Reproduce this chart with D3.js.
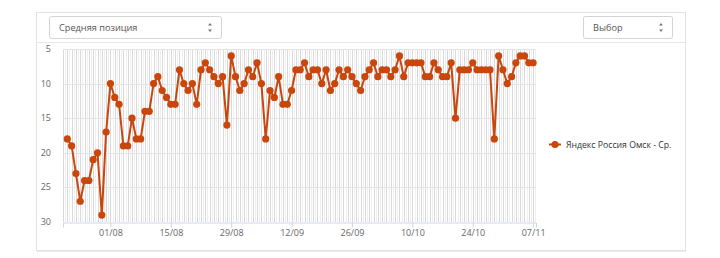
<!DOCTYPE html>
<html>
<head>
<meta charset="utf-8">
<script src="https://cdnjs.cloudflare.com/ajax/libs/d3/7.8.5/d3.min.js"></script>
<style>
  html, body { margin: 0; padding: 0; background: #fff; }
  svg { display: block; font-family: "Open Sans", sans-serif; }
</style>
</head>
<body>
<div id="viz"></div>
<script>
// positions by day, 22/07 .. 07/11
const startDate = new Date(2019, 6, 22)
const positions = [
  18,19,23,27,24,24,21,20,29,17,
  10,12,13,19,19,15,18,18,14,14,10,9,11,12,13,13,8,10,11,10,13,8,7,8,9,10,9,16,6,9,11,
  10,8,9,7,10,18,11,12,9,13,13,11,8,8,7,9,8,8,10,8,11,10,8,9,8,9,10,11,9,8,
  7,9,8,8,9,8,6,9,7,7,7,7,9,9,7,8,9,9,7,15,8,8,8,7,8,8,8,8,18,6,8,
  10,9,7,6,6,7,7
]
const tickLabels = ["01/08","15/08","29/08","12/09","26/09","10/10","24/10","07/11"]
const yTicks = [5,10,15,20,25,30]
const seriesName = "Яндекс Россия Омск - Ср."
const selectLeft = "Средняя позиция"
const selectRight = "Выбор"

const width = 720, height = 258
const color = "#c9460c"

const data = positions.map((v, i) => ({date: d3.timeDay.offset(startDate, i), value: v}))
const tickDates = tickLabels.map(s => {
  const [dd, mm] = s.split("/").map(Number)
  return new Date(2019, mm - 1, dd)
})

const svg = d3.select("#viz").append("svg")
  .attr("width", width).attr("height", height)

// card
svg.append("rect")
  .attr("x", 36.5).attr("y", 12.5)
  .attr("width", 649).attr("height", 238)
  .attr("fill", "#fff").attr("stroke", "#e3e3e3")
svg.append("line")
  .attr("x1", 37).attr("x2", 686).attr("y1", 251.5).attr("y2", 251.5)
  .attr("stroke", "#ececec")
svg.append("line")
  .attr("x1", 37).attr("x2", 685).attr("y1", 42.5).attr("y2", 42.5)
  .attr("stroke", "#e6e6e6")

// dropdowns
function dropdown(x, w, label) {
  const g = svg.append("g").attr("transform", "translate(" + x + ",16)")
  g.append("rect").attr("x", 0.5).attr("y", 0.5).attr("width", w).attr("height", 22)
    .attr("rx", 2).attr("fill", "#fff").attr("stroke", "#d4d4d4")
  g.append("text").attr("x", 10).attr("y", 14.5).attr("font-size", 9.2).attr("fill", "#555").text(label)
  g.append("path").attr("d", "M" + (w - 13) + ",9.5 l2,-2.5 l2,2.5 Z M" + (w - 13) + ",13.5 l2,2.5 l2,-2.5 Z")
    .attr("fill", "#777")
}
dropdown(49, 172, selectLeft)
dropdown(583, 89, selectRight)

const plotLeft = 63, plotRight = 536, plotTop = 49, plotBottom = 222

const xScale = d3.scaleTime()
  .domain([d3.timeDay.offset(startDate, -1), d3.timeHour.offset(d3.timeDay.offset(startDate, positions.length - 1), 16)])
  .range([plotLeft, plotRight])
const yScale = d3.scaleLinear().domain([5, 30]).range([plotTop, plotBottom])

// day grid
const days = d3.timeDay.range(xScale.domain()[0], xScale.domain()[1])
svg.append("g").selectAll("line.half")
  .data(days)
  .enter().append("line")
  .attr("x1", d => Math.round(xScale(d3.timeHour.offset(d, 12))) + 0.5)
  .attr("x2", d => Math.round(xScale(d3.timeHour.offset(d, 12))) + 0.5)
  .attr("y1", plotTop).attr("y2", plotBottom)
  .attr("stroke", "#efefef")
svg.append("g").selectAll("line.day")
  .data(days)
  .enter().append("line")
  .attr("x1", d => Math.round(xScale(d)) + 0.5)
  .attr("x2", d => Math.round(xScale(d)) + 0.5)
  .attr("y1", plotTop).attr("y2", plotBottom)
  .attr("stroke", "#d9d9d9")

// horizontal grid
svg.append("g").selectAll("line")
  .data(yTicks.filter(t => t !== 30))
  .enter().append("line")
  .attr("x1", plotLeft).attr("x2", plotRight)
  .attr("y1", d => Math.round(yScale(d)) + 0.5)
  .attr("y2", d => Math.round(yScale(d)) + 0.5)
  .attr("stroke", "#e4e4e4")

// y labels
svg.append("g").selectAll("text")
  .data(yTicks)
  .enter().append("text")
  .attr("x", 51).attr("y", d => yScale(d) + 3)
  .attr("text-anchor", "end").attr("font-size", 9).attr("fill", "#666")
  .text(d => d)

// x axis
const xAxisG = svg.append("g")
  .attr("transform", "translate(0," + (plotBottom + 0.5) + ")")
  .call(d3.axisBottom(xScale)
    .tickValues(tickDates)
    .tickFormat((d, i) => tickLabels[i])
    .tickSizeOuter(0)
    .tickSize(5)
    .tickPadding(2))
xAxisG.select(".domain").attr("stroke", "#ccd6eb")
xAxisG.selectAll(".tick line").attr("stroke", "#ccd6eb")
xAxisG.selectAll(".tick text")
  .attr("fill", "#666").attr("font-size", 9)
  .attr("font-family", "Open Sans, sans-serif")

// series
const line = d3.line().x(d => xScale(d.date)).y(d => yScale(d.value))
svg.append("path")
  .datum(data)
  .attr("d", line)
  .attr("fill", "none").attr("stroke", color)
  .attr("stroke-width", 2).attr("stroke-linejoin", "round")
svg.append("g").selectAll("circle")
  .data(data)
  .enter().append("circle")
  .attr("cx", d => xScale(d.date)).attr("cy", d => yScale(d.value))
  .attr("r", 3.6).attr("fill", color)

// legend
const lg = svg.append("g").attr("transform", "translate(549,144.5)")
lg.append("line").attr("x1", 0).attr("x2", 12).attr("stroke", color).attr("stroke-width", 2)
lg.append("circle").attr("cx", 6).attr("r", 3.6).attr("fill", color)
lg.append("text").attr("x", 17).attr("y", 3).attr("font-size", 8.7).attr("fill", "#333")
  .text(seriesName)
</script>
</body>
</html>
